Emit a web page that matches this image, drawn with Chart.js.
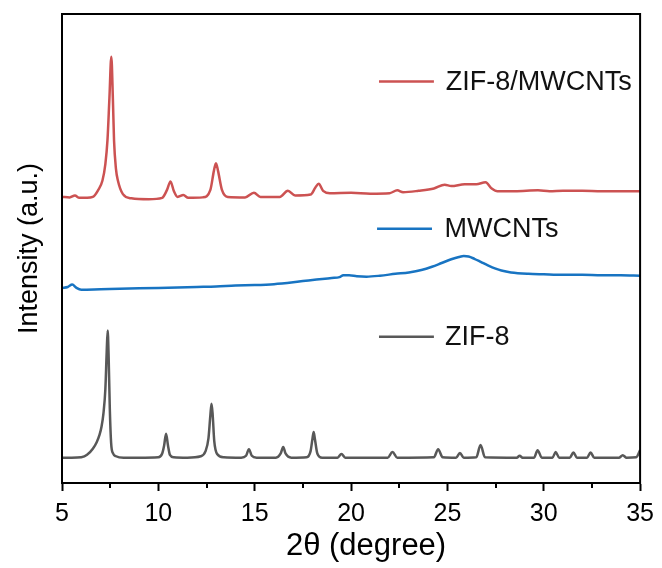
<!DOCTYPE html>
<html>
<head>
<meta charset="utf-8">
<script src="https://cdn.jsdelivr.net/npm/chart.js@4.4.1/dist/chart.umd.min.js"></script>
<style>
html,body{margin:0;padding:0;background:#fff;}
#c{display:block;}
</style>
</head>
<body>
<canvas id="c" width="662" height="568"></canvas>
<script>
// ---- data (2θ in degrees, intensity in arbitrary units, offset-stacked) ----
const seriesLabels = ["ZIF-8/MWCNTs", "MWCNTs", "ZIF-8"];
const xTicks = [5, 10, 15, 20, 25, 30, 35];
const xMinorTicks = [7.5, 12.5, 17.5, 22.5, 27.5, 32.5];
const xTitle = "2θ (degree)";
const yTitle = "Intensity (a.u.)";

const compositeX = [5, 5.4, 5.67, 5.9, 6.3, 6.6, 6.87, 7.1, 7.25, 7.36, 7.46, 7.56, 7.64, 7.7, 7.8, 7.9, 8.16, 8.6, 9.5, 10.2, 10.45, 10.63, 10.8, 11.0, 11.3, 11.55, 12.3, 12.7, 12.88, 12.99, 13.1, 13.3, 13.6, 14.5, 14.96, 15.3, 16.3, 16.72, 17.1, 17.9, 18.15, 18.32, 18.55, 18.9, 20, 21, 22, 22.4, 22.7, 23.5, 24.3, 24.86, 25.2, 25.9, 26.5, 26.98, 27.3, 27.6, 28.5, 29.7, 30.3, 31, 32, 33, 34, 35];
const compositeY = [61.0, 60.9, 61.3, 60.8, 60.8, 61.0, 62.4, 64.5, 68.0, 73.1, 82.0, 90.9, 82.0, 73.1, 67.0, 64.5, 61.6, 60.7, 60.5, 60.8, 62.5, 64.3, 62.3, 61.0, 61.4, 60.8, 60.9, 62.5, 66.5, 68.2, 66.5, 62.5, 61.0, 60.9, 61.9, 61.0, 61.0, 62.3, 61.3, 61.5, 63.0, 63.8, 62.3, 61.8, 61.9, 61.7, 61.8, 62.4, 62.0, 62.3, 62.8, 63.6, 63.3, 63.7, 63.7, 64.1, 62.8, 62.2, 62.2, 62.4, 62.2, 62.3, 62.3, 62.2, 62.2, 62.2];

const cntX = [5, 5.3, 5.53, 5.75, 6.0, 7, 8, 9, 10, 11, 12, 13, 14, 15, 16, 17, 18, 19, 19.4, 19.6, 19.9, 20.3, 20.8, 21.5, 22.3, 23, 23.65, 24.2, 24.7, 25.2, 25.6, 25.85, 26.1, 26.4, 26.75, 27.1, 27.5, 27.8, 28.3, 29.2, 30, 31, 32, 33, 34, 35];
const cntY = [41.6, 41.8, 42.3, 41.6, 41.2, 41.3, 41.4, 41.5, 41.6, 41.7, 41.8, 41.9, 42.1, 42.2, 42.4, 42.8, 43.3, 43.7, 43.9, 44.3, 44.3, 44.1, 44.0, 44.2, 44.6, 44.9, 45.4, 46.1, 46.9, 47.7, 48.2, 48.4, 48.3, 47.8, 47.1, 46.4, 45.7, 45.3, 44.9, 44.6, 44.5, 44.4, 44.4, 44.3, 44.3, 44.2];

const zifX = [5, 5.5, 6.0, 6.3, 6.6, 6.8, 6.95, 7.05, 7.15, 7.25, 7.32, 7.37, 7.42, 7.48, 7.55, 7.65, 7.8, 8.2, 9, 10.0, 10.2, 10.3, 10.4, 10.5, 10.6, 10.8, 11.5, 12.2, 12.45, 12.6, 12.7, 12.76, 12.82, 12.9, 13.05, 13.4, 14.3, 14.55, 14.7, 14.85, 15.1, 16.1, 16.35, 16.48, 16.6, 16.9, 17.7, 17.9, 18.0, 18.06, 18.12, 18.25, 18.5, 19.3, 19.5, 19.7, 21.9, 22.15, 22.4, 24.3, 24.52, 24.75, 25.45, 25.65, 25.85, 26.5, 26.72, 26.95, 28.6, 28.75, 28.9, 29.5, 29.68, 29.9, 30.45, 30.62, 30.8, 31.35, 31.54, 31.72, 32.25, 32.43, 32.62, 33.9, 34.1, 34.3, 34.8, 35];
const zifY = [5.4, 5.4, 5.5, 6.0, 7.3, 8.7, 10.3, 12.0, 14.8, 20.0, 28.0, 32.5, 27.0, 16.0, 8.5, 6.3, 5.7, 5.4, 5.4, 5.5, 6.3, 8.0, 10.5, 8.0, 6.0, 5.5, 5.4, 5.7, 6.8, 9.5, 14.5, 16.9, 14.5, 9.0, 6.2, 5.5, 5.4, 5.8, 7.2, 5.8, 5.4, 5.4, 6.3, 7.7, 6.3, 5.4, 5.5, 6.8, 9.5, 10.9, 9.5, 6.3, 5.4, 5.4, 6.2, 5.4, 5.4, 6.6, 5.4, 5.5, 7.2, 5.5, 5.4, 6.4, 5.4, 5.5, 8.1, 5.5, 5.4, 5.8, 5.4, 5.4, 7.0, 5.4, 5.4, 6.6, 5.4, 5.4, 6.5, 5.4, 5.4, 6.5, 5.4, 5.4, 5.9, 5.4, 5.5, 7.0];

// ---- build ----
const toPts = (xs, ys) => xs.map((x, i) => ({x: x, y: ys[i]}));
const colors = ["rgb(204,82,82)", "rgb(24,116,194)", "rgb(88,88,88)"];
const FONT = "'Liberation Sans', Arial, Helvetica, sans-serif";

// legend anchors (in data units), one per series
const legendAnchors = [
  {x0: 21.45, x1: 24.3, tx: 24.92, y: 85.6},
  {x0: 21.35, x1: 24.2, tx: 24.85, y: 54.2},
  {x0: 21.45, x1: 24.3, tx: 24.88, y: 31.2}
];

const framePlugin = {
  id: 'frameAndLegend',
  afterDraw(chart) {
    const {ctx, chartArea: a, scales} = chart;
    const xs = scales.x, ys = scales.y;
    ctx.save();
    // frame
    ctx.strokeStyle = '#000';
    ctx.lineWidth = 2;
    ctx.strokeRect(a.left, a.top, a.right - a.left, a.bottom - a.top);
    // minor ticks
    ctx.beginPath();
    xMinorTicks.forEach(v => {
      const px = Math.round(xs.getPixelForValue(v));
      ctx.moveTo(px, a.bottom);
      ctx.lineTo(px, a.bottom + 5);
    });
    ctx.stroke();
    // x axis title (slightly right of centre, as in the original figure)
    ctx.fillStyle = '#000';
    ctx.font = "31px " + FONT;
    ctx.textAlign = 'center';
    ctx.textBaseline = 'middle';
    ctx.fillText(xTitle, (a.left + a.right) / 2 + 15, 546);
    // in-plot legend
    ctx.font = "27px " + FONT;
    ctx.textBaseline = 'middle';
    ctx.textAlign = 'left';
    chart.data.datasets.forEach((ds, i) => {
      const an = legendAnchors[i];
      const py = ys.getPixelForValue(an.y);
      ctx.strokeStyle = ds.borderColor;
      ctx.lineWidth = 2.5;
      ctx.beginPath();
      ctx.moveTo(xs.getPixelForValue(an.x0), py);
      ctx.lineTo(xs.getPixelForValue(an.x1), py);
      ctx.stroke();
      ctx.fillStyle = '#111';
      ctx.fillText(ds.label, xs.getPixelForValue(an.tx), py + 1);
    });
    ctx.restore();
  }
};

new Chart(document.getElementById('c'), {
  type: 'line',
  data: {
    datasets: [
      {label: seriesLabels[0], data: toPts(compositeX, compositeY), borderColor: colors[0]},
      {label: seriesLabels[1], data: toPts(cntX, cntY), borderColor: colors[1]},
      {label: seriesLabels[2], data: toPts(zifX, zifY), borderColor: colors[2]}
    ]
  },
  options: {
    responsive: false,
    animation: false,
    datasets: {
      line: {
        pointRadius: 0,
        borderWidth: 2.5,
        cubicInterpolationMode: 'monotone',
        fill: false
      }
    },
    layout: {padding: {top: 14, right: 19, left: 0, bottom: 0}},
    plugins: {legend: {display: false}, tooltip: {enabled: false}},
    scales: {
      x: {
        type: 'linear',
        min: 5, max: 35,
        afterBuildTicks: s => { s.ticks = xTicks.map(v => ({value: v})); },
        afterFit: s => { s.height = 85; },
        grid: {display: true, drawOnChartArea: false, drawTicks: true, tickLength: 8, tickWidth: 2, tickColor: '#000'},
        border: {display: true, width: 2, color: '#000'},
        ticks: {color: '#000', padding: 8, font: {family: FONT, size: 25}, maxRotation: 0},
        title: {display: false, text: xTitle}
      },
      y: {
        type: 'linear',
        min: 0, max: 100,
        afterFit: s => { s.width = 62; },
        grid: {display: false},
        border: {display: true, width: 2, color: '#000'},
        ticks: {display: false},
        title: {display: true, text: yTitle, color: '#000', font: {family: FONT, size: 27}, padding: {top: 13, bottom: 0}}
      }
    }
  },
  plugins: [framePlugin]
});
</script>
</body>
</html>
